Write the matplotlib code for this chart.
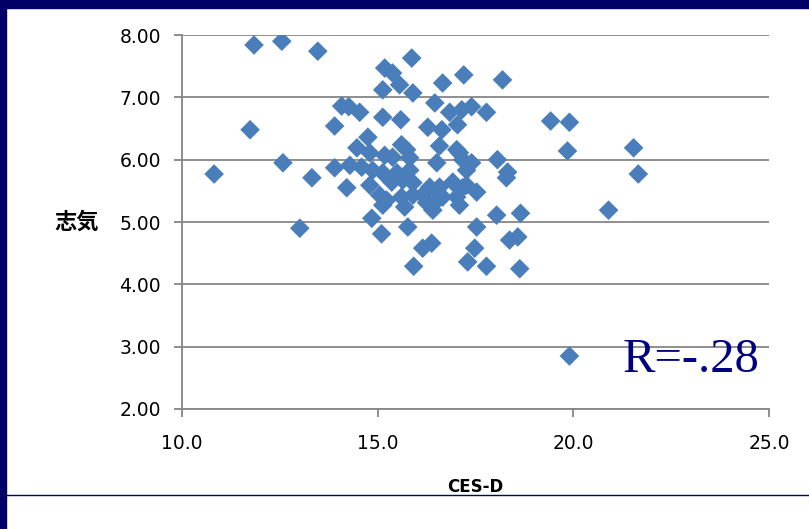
import numpy as np
import matplotlib.pyplot as plt
from matplotlib.lines import Line2D

# ======================
# DATA
# ======================
ces_d = [
    11.84, 12.55, 13.47, 11.74, 10.82, 12.58, 13.32, 13.01,
    13.90, 14.08, 14.26, 14.54, 15.13, 15.59, 14.75,
    15.13, 15.56, 15.18, 15.38, 15.87, 15.90,
    16.66, 17.20, 18.19,
    16.46, 16.84, 17.15, 17.40, 17.78, 17.04, 16.28, 16.64,
    19.42, 19.90, 19.85, 21.54, 21.66, 20.90, 19.90,
    15.61, 14.47, 14.80, 15.18, 15.38, 15.74, 15.82,
    13.90, 14.29, 14.59, 14.87, 15.13, 15.49, 15.82,
    14.21, 15.36, 15.64, 15.90, 16.33, 15.61, 15.90, 16.25, 15.23, 15.69,
    16.51, 17.02, 17.17, 17.27, 17.40, 18.06, 18.32, 18.29,
    16.58, 16.92, 17.27, 17.53, 16.66, 17.02, 16.46,
    16.58, 17.09,
    14.80, 15.05, 15.13, 16.15, 16.51, 16.41, 17.17, 17.09,
    18.04, 18.65,
    14.85, 15.10, 15.77, 17.53,
    16.15, 16.38, 17.48, 18.37, 18.58, 15.92, 17.30, 17.78, 18.63,
]
shiki = [
    7.84, 7.90, 7.74, 6.48, 5.77, 5.95, 5.71, 4.90,
    6.54, 6.86, 6.85, 6.76, 6.68, 6.64, 6.36,
    7.12, 7.20, 7.47, 7.39, 7.63, 7.07,
    7.23, 7.36, 7.28,
    6.91, 6.76, 6.80, 6.85, 6.76, 6.56, 6.52, 6.48,
    6.62, 6.60, 6.14, 6.19, 5.77, 5.19, 2.85,
    6.24, 6.19, 6.11, 6.07, 6.04, 6.16, 6.03,
    5.87, 5.91, 5.88, 5.83, 5.79, 5.79, 5.83,
    5.55, 5.64, 5.67, 5.63, 5.56, 5.40, 5.43, 5.31, 5.35, 5.24,
    5.95, 6.16, 6.00, 5.83, 5.95, 6.00, 5.80, 5.71,
    5.56, 5.64, 5.59, 5.48, 5.40, 5.40, 5.31,
    6.22, 6.11,
    5.59, 5.43, 5.27, 5.43, 5.51, 5.19, 5.55, 5.27,
    5.11, 5.14,
    5.06, 4.81, 4.92, 4.92,
    4.58, 4.66, 4.58, 4.71, 4.76, 4.29, 4.36, 4.29, 4.25,
]

x_ticks = [10.0, 15.0, 20.0, 25.0]
y_ticks = [2.0, 3.0, 4.0, 5.0, 6.0, 7.0, 8.0]
r_text = "R=-.28"

# ======================
# FIGURE
# ======================
fig = plt.figure(figsize=(8.09, 5.29), dpi=100)
fig.patch.set_facecolor("white")

# navy frame (slide border) + bottom rule
navy = "#000066"
fig.patches.append(plt.Rectangle((0, 1 - 8 / 529), 1, 8 / 529, transform=fig.transFigure,
                                 color=navy, zorder=0))
fig.patches.append(plt.Rectangle((0, 0), 6 / 809, 1, transform=fig.transFigure,
                                 color=navy, zorder=0))
fig.lines.append(Line2D([6 / 809, 1], [1 - 495 / 529] * 2, transform=fig.transFigure,
                        color=navy, lw=1.0))

ax = fig.add_axes([182 / 809, 1 - 409 / 529, (769 - 182) / 809, (409 - 35) / 529])

grid_c = "#868686"
ax.scatter(ces_d, shiki, marker="D", s=100, color="#4A7EBB", edgecolors="none", zorder=3)

ax.set_xlim(10, 25)
ax.set_ylim(2, 8)
ax.set_xticks(x_ticks)
ax.set_yticks(y_ticks)
ax.set_xticklabels([f"{v:.1f}" for v in x_ticks])
ax.set_yticklabels([f"{v:.2f}" for v in y_ticks])
ax.yaxis.grid(True, color=grid_c, lw=1.3)
ax.set_axisbelow(True)

for side in ["top", "right"]:
    ax.spines[side].set_visible(False)
for side in ["left", "bottom"]:
    ax.spines[side].set_color(grid_c)
    ax.spines[side].set_linewidth(1.3)

ax.tick_params(axis="both", colors=grid_c, width=1.3, length=6, labelcolor="black",
               labelsize=13.5)
ax.tick_params(axis="y", pad=9)
ax.tick_params(axis="x", pad=12)

ax.set_xlabel("CES-D", fontsize=12, fontweight="bold", labelpad=18)
ax.set_ylabel("志気", family=["Noto Sans CJK JP", "DejaVu Sans"], fontsize=16,
              fontweight="bold", rotation=0, va="center", ha="right", labelpad=15)

ax.text(0.983, 0.131, r_text, transform=ax.transAxes, ha="right", va="center",
        family="Liberation Serif", fontsize=35, color="#000080")

plt.savefig("out.png", dpi=100)
